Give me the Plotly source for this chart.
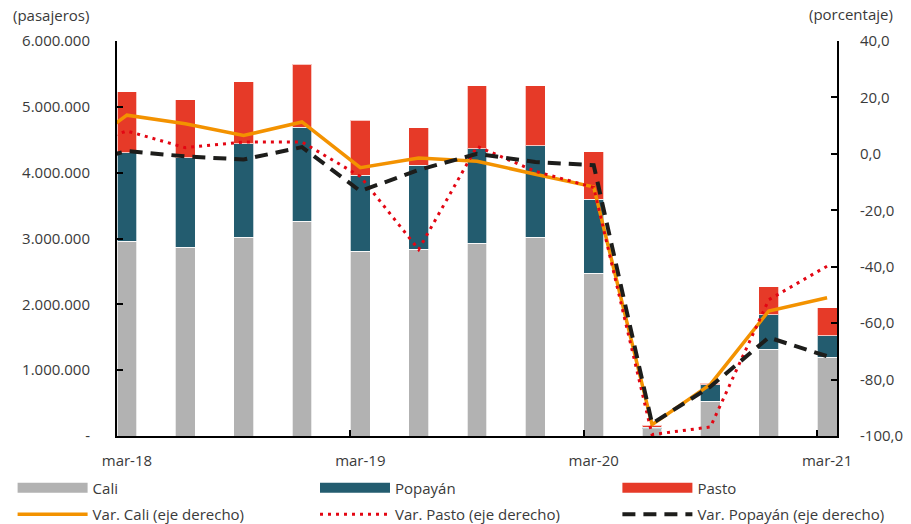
import plotly.graph_objects as go

# trimestres (indice -1 = dic-17, solo para el tramo de linea que entra por la izquierda)
quarters = list(range(13))
quarters_var = list(range(-1, 13))
tick_pos = [0, 4, 8, 12]
tick_labels = ["mar-18", "mar-19", "mar-20", "mar-21"]

# pasajeros
cali = [2960000, 2870000, 3020000, 3260000, 2810000, 2840000, 2930000, 3020000,
        2470000, 110000, 530000, 1320000, 1200000]
popayan = [1340000, 1360000, 1420000, 1430000, 1150000, 1270000, 1430000, 1390000,
           1130000, 25000, 250000, 520000, 320000]
pasto = [930000, 880000, 940000, 960000, 840000, 570000, 960000, 910000,
         720000, 30000, 20000, 430000, 430000]

# variacion anual (%)
var_cali = [-1.4, 13.7, 10.7, 6.5, 11.3, -4.9, -1.5, -2.6, -7.2, -11.7,
            -96.0, -81.7, -55.7, -51.0]
var_pasto = [1.3, 8.1, 2.2, 4.2, 4.2, -8.0, -33.9, 2.7, -6.2, -11.9,
             -99.5, -96.8, -51.7, -39.8]
var_popayan = [-4.4, 1.0, -0.9, -2.0, 2.4, -13.2, -5.7, 0.0, -2.9, -4.0,
               -95.6, -82.5, -65.1, -71.7]

left_vals = [0, 1000000, 2000000, 3000000, 4000000, 5000000, 6000000]
left_text = ["-", "1.000.000", "2.000.000", "3.000.000", "4.000.000", "5.000.000", "6.000.000"]
right_vals = [-100, -80, -60, -40, -20, 0, 20, 40]
right_text = ["-100,0", "-80,0", "-60,0", "-40,0", "-20,0", "0,0", "20,0", "40,0"]

FONT = "Open Sans"
TXT = "#3a3a3a"
GREY, TEAL, RED = "#B2B2B2", "#235C6F", "#E63A28"
edge = dict(color="rgba(255,255,255,0.7)", width=1)

fig = go.Figure()
fig.add_trace(go.Bar(x=quarters, y=cali, name="Cali", showlegend=False,
                     marker=dict(color=GREY, line=edge)))
fig.add_trace(go.Bar(x=quarters, y=popayan, name="Popayán", showlegend=False,
                     marker=dict(color=TEAL, line=edge)))
fig.add_trace(go.Bar(x=quarters, y=pasto, name="Pasto", showlegend=False,
                     marker=dict(color=RED, line=edge)))

# entradas de leyenda para las barras (muestra ancha como en el original)
for name, color, leg in [("Cali", GREY, "legend"), ("Popayán", TEAL, "legend2"), ("Pasto", RED, "legend3")]:
    fig.add_trace(go.Scatter(x=[None], y=[None], name=name, legend=leg, legendgroup=name,
                             mode="lines", line=dict(color=color, width=10), hoverinfo="skip"))

fig.add_trace(go.Scatter(x=quarters_var, y=var_cali, name="Var. Cali (eje derecho)", yaxis="y2",
                         legend="legend", legendgroup="vcali", mode="lines",
                         line=dict(color="#F39200", width=3.5)))
fig.add_trace(go.Scatter(x=quarters_var, y=var_pasto, name="Var. Pasto (eje derecho)", yaxis="y2",
                         legend="legend2", legendgroup="vpasto", mode="lines",
                         line=dict(color="#E30613", width=3, dash="3px,5px")))
fig.add_trace(go.Scatter(x=quarters_var, y=var_popayan, name="Var. Popayán (eje derecho)", yaxis="y2",
                         legend="legend3", legendgroup="vpopayan", mode="lines",
                         line=dict(color="#1D1D1B", width=4, dash="13px,8px")))

legend_common = dict(
    orientation="v",
    xanchor="left",
    y=-0.09,
    yanchor="top",
    traceorder="grouped",
    itemwidth=70,
    tracegroupgap=4,
    bgcolor="rgba(0,0,0,0)",
    font=dict(family=FONT, size=15, color=TXT),
)

fig.update_layout(
    width=911,
    height=524,
    barmode="stack",
    bargap=0.66,
    plot_bgcolor="white",
    paper_bgcolor="white",
    font=dict(family=FONT, size=15, color=TXT),
    margin=dict(l=117, r=74, t=41, b=88, autoexpand=False),
    xaxis=dict(
        range=[-0.17, 12.17],
        tickmode="array",
        tickvals=tick_pos,
        ticktext=tick_labels,
        ticks="",
        showline=True,
        linecolor="black",
        linewidth=2,
        showgrid=False,
        zeroline=False,
        ticklabelstandoff=10,
        minor=dict(tickmode="array", tickvals=[3.83, 7.83, 11.83], ticks="inside",
                   ticklen=6, tickcolor="black", tickwidth=2, showgrid=False),
    ),
    yaxis=dict(
        range=[0, 6000000],
        tickmode="array",
        tickvals=left_vals,
        ticktext=left_text,
        ticks="inside",
        ticklen=6,
        tickwidth=2,
        tickcolor="black",
        showline=True,
        linecolor="black",
        linewidth=2,
        showgrid=False,
        zeroline=False,
        ticklabelstandoff=22,
    ),
    yaxis2=dict(
        range=[-100, 40],
        overlaying="y",
        side="right",
        tickmode="array",
        tickvals=right_vals,
        ticktext=right_text,
        ticks="inside",
        ticklen=6,
        tickwidth=2,
        tickcolor="black",
        showline=True,
        linecolor="black",
        linewidth=2,
        showgrid=False,
        zeroline=False,
        ticklabelstandoff=18,
    ),
    legend=dict(legend_common, x=-0.145),
    legend2=dict(legend_common, x=0.275),
    legend3=dict(legend_common, x=0.695),
    annotations=[
        dict(text="(pasajeros)", xref="paper", yref="paper", x=-0.147, y=1.065,
             xanchor="left", yanchor="middle", showarrow=False),
        dict(text="(porcentaje)", xref="paper", yref="paper", x=1.08, y=1.068,
             xanchor="right", yanchor="middle", showarrow=False),
    ],
)

fig.write_html("out.html", config={"displayModeBar": False},
               post_script="document.body.style.margin='0px';")
